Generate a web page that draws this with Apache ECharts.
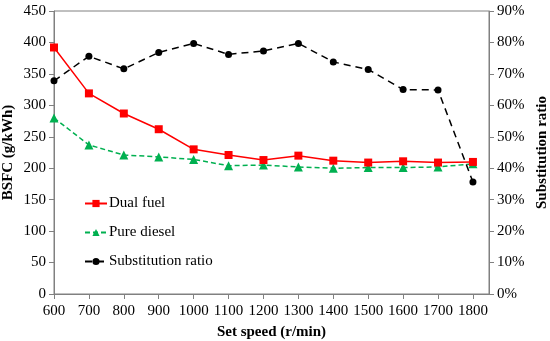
<!DOCTYPE html>
<html><head><meta charset="utf-8">
<script src="https://cdn.jsdelivr.net/npm/echarts@6/dist/echarts.min.js"></script>
<style>html,body{margin:0;padding:0;background:#fff}#c{width:550px;height:341px}</style>
</head><body><div id="c"></div>
<script>
const speeds = [600,700,800,900,1000,1100,1200,1300,1400,1500,1600,1700,1800];
const dualFuel = [392,319,287,262,230,221,213,220,212,209,211,209,210];
const pureDiesel = [280,237,221,218,214,204,205,202,200,201,201,202,207];
const substitution = [67.8,75.6,71.6,76.8,79.7,76.2,77.3,79.7,73.8,71.4,65.0,64.9,35.6];
const xTicks = [600,700,800,900,1000,1100,1200,1300,1400,1500,1600,1700,1800];

const font = 'Liberation Serif';
const axisColor = '#808080';
const chart = echarts.init(document.getElementById('c'));
const pair = (arr) => speeds.map((s,i)=>[s,arr[i]]);
chart.setOption({
  animation:false,
  grid:{left:54,right:61,top:11,bottom:47,show:true,borderColor:axisColor,borderWidth:1,outerBoundsMode:'none',containLabel:false},
  legend:{
    orient:'vertical', left:84, top:196, padding:0, itemGap:14, itemWidth:22, itemHeight:9,
    textStyle:{fontFamily:font,fontSize:15,color:'#000',padding:[0,0,0,-3]},
    data:['Dual fuel','Pure diesel','Substitution ratio']
  },
  xAxis:{
    type:'value', min:600, max:1846,
    name:'Set speed (r/min)', nameLocation:'middle', nameGap:31, nameMoveOverlap:false,
    nameTextStyle:{fontFamily:font,fontSize:15,fontWeight:'bold',color:'#000'},
    axisLine:{show:true,lineStyle:{color:axisColor}},
    axisTick:{show:true,inside:false,length:5,lineStyle:{color:axisColor},customValues:xTicks},
    axisLabel:{fontFamily:font,fontSize:15,color:'#000',margin:10,customValues:xTicks,hideOverlap:false,
      formatter:(v)=>String(v)},
    splitLine:{show:false}
  },
  yAxis:[{
    type:'value', min:0, max:450, interval:50,
    name:'BSFC (g/kWh)', nameLocation:'middle', nameGap:38, nameRotate:90, nameMoveOverlap:false,
    nameTextStyle:{fontFamily:font,fontSize:15,fontWeight:'bold',color:'#000'},
    axisLine:{show:true,lineStyle:{color:axisColor}},
    axisTick:{show:true,length:5,lineStyle:{color:axisColor}},
    axisLabel:{fontFamily:font,fontSize:15,color:'#000',margin:8,formatter:(v)=>String(v)},
    splitLine:{show:false}
  },{
    type:'value', min:0, max:90, interval:10, position:'right',
    name:'Substitution ratio', nameLocation:'middle', nameGap:46, nameRotate:90, nameMoveOverlap:false,
    nameTextStyle:{fontFamily:font,fontSize:15,fontWeight:'bold',color:'#000'},
    axisLine:{show:true,lineStyle:{color:axisColor}},
    axisTick:{show:true,length:5,lineStyle:{color:axisColor}},
    axisLabel:{fontFamily:font,fontSize:15,color:'#000',margin:8,formatter:'{value}%'},
    splitLine:{show:false}
  }],
  series:[{
    name:'Dual fuel', type:'line', data:pair(dualFuel), yAxisIndex:0,
    symbol:'rect', symbolSize:8, itemStyle:{color:'#FF0000'},
    lineStyle:{color:'#FF0000',width:1.5,type:'solid'}, z:3
  },{
    name:'Pure diesel', type:'line', data:pair(pureDiesel), yAxisIndex:0,
    symbol:'triangle', symbolSize:9, itemStyle:{color:'#00B050'},
    lineStyle:{color:'#00B050',width:1.5,type:[5,3]}, z:2
  },{
    name:'Substitution ratio', type:'line', data:pair(substitution), yAxisIndex:1,
    symbol:'circle', symbolSize:7, itemStyle:{color:'#000'},
    lineStyle:{color:'#000',width:1.5,type:[7,5]}, z:4
  }]
});
</script></body></html>
